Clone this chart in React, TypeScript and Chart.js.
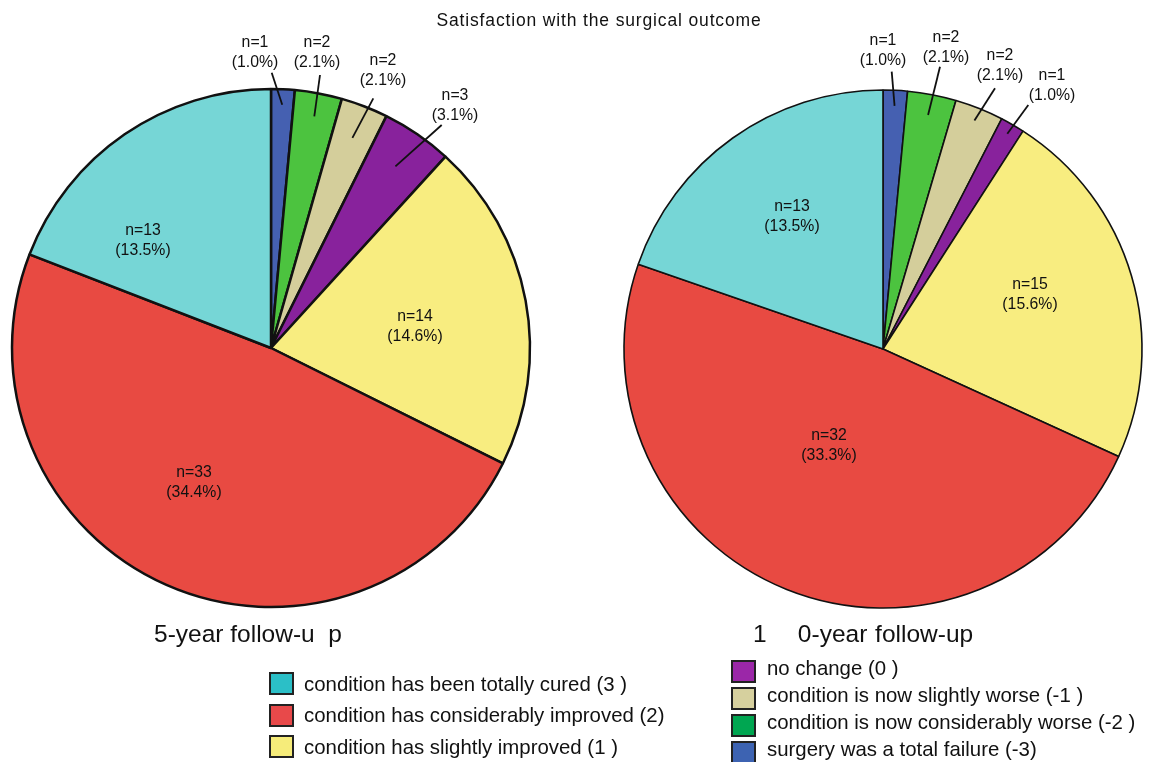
import React, { useEffect, useRef } from "react";
import { Chart, registerables } from "chart.js";

Chart.register(...registerables);

// Response categories, in the order the slices run clockwise from 12 o'clock
const categories = [
  "surgery was a total failure (-3)",
  "condition is now considerably worse (-2 )",
  "condition is now slightly worse (-1 )",
  "no change (0 )",
  "condition has slightly improved (1 )",
  "condition has considerably improved (2)",
  "condition has been totally cured (3 )",
];

const fiveYearCounts = [1, 2, 2, 3, 14, 33, 13];
const tenYearCounts = [1, 2, 2, 1, 15, 32, 13];

// Percentages are stated against all respondents of the cohort
const respondents = 96;

const sliceColors = ["#4560B1", "#4CC33F", "#D4CE9B", "#88229C", "#F8ED80", "#E84A42", "#76D6D6"];
const legendColors = ["#3D63B2", "#00A651", "#D6D09E", "#9B27A8", "#F6EC7A", "#E8494A", "#2BBFC7"];

const chartTitle = "Satisfaction with the surgical outcome";
const fiveYearCaption = "5-year follow-u  p";
const tenYearCaption = "1    0-year follow-up";

// Legend columns (category indices)
const legendLeft = [6, 5, 4];
const legendRight = [3, 2, 1, 0];

const FONT = "'Liberation Sans', Arial, Helvetica, sans-serif";

type Placement = { dx: number; dy: number; lineTo?: [number, number]; inner?: number };

// Label placement relative to the pie centre; call-outs get a leader line
const fiveYearPlacements: Placement[] = [
  { dx: -16, dy: -296, lineTo: [0.7, -275.3], inner: 0.94 },
  { dx: 46, dy: -295.5, lineTo: [49, -273], inner: 0.91 },
  { dx: 112, dy: -278, lineTo: [102.3, -249.7], inner: 0.87 },
  { dx: 184, dy: -243, lineTo: [170.7, -223], inner: 0.85 },
  { dx: 144, dy: -22 },
  { dx: -77, dy: 134 },
  { dx: -128, dy: -108 },
];

const tenYearPlacements: Placement[] = [
  { dx: 0, dy: -299, lineTo: [8.7, -277.3], inner: 0.94 },
  { dx: 63, dy: -301.5, lineTo: [57, -282.3], inner: 0.92 },
  { dx: 117, dy: -284, lineTo: [112, -260.7], inner: 0.95 },
  { dx: 169, dy: -264, lineTo: [145.3, -244], inner: 0.96 },
  { dx: 147, dy: -54.5 },
  { dx: -54, dy: 96 },
  { dx: -91, dy: -133 },
];

// Slice labels use a slightly condensed face
const LABEL_SCALE_X = 0.93;

const sliceLabelPlugin = {
  id: "sliceLabels",
  afterDatasetsDraw(chart: any, _args: any, opts: any) {
    const meta = chart.getDatasetMeta(0);
    const values = chart.data.datasets[0].data as number[];
    const ctx = chart.ctx as CanvasRenderingContext2D;
    ctx.save();
    ctx.fillStyle = "#111";
    ctx.strokeStyle = "#111";
    meta.data.forEach((arc: any, i: number) => {
      const p: Placement = opts.placements[i];
      const { x, y, startAngle, endAngle, outerRadius } = arc.getProps(
        ["x", "y", "startAngle", "endAngle", "outerRadius"],
        true
      );
      const n = values[i];
      const pct = ((n / respondents) * 100).toFixed(1);
      if (p.lineTo) {
        const mid = (startAngle + endAngle) / 2;
        const r = outerRadius * (p.inner ?? 0.9);
        ctx.beginPath();
        ctx.moveTo(x + Math.cos(mid) * r, y + Math.sin(mid) * r);
        ctx.lineTo(x + p.lineTo[0], y + p.lineTo[1]);
        ctx.lineWidth = 1.8;
        ctx.stroke();
      }
      const cx = x + p.dx;
      const cy = y + p.dy;
      ctx.save();
      ctx.translate(cx, cy);
      ctx.scale(LABEL_SCALE_X, 1);
      ctx.font = `17px ${FONT}`;
      ctx.textAlign = "center";
      ctx.textBaseline = "middle";
      ctx.fillText(`n=${n}`, 0, -10);
      ctx.fillText(`(${pct}%)`, 0, 10);
      ctx.restore();
    });
    ctx.restore();
  },
};

type PieProps = {
  counts: number[];
  placements: Placement[];
  left: number;
  width: number;
  padding: { left: number; right: number; top: number; bottom: number };
  borderWidth: number;
};

function Pie({ counts, placements, left, width, padding, borderWidth }: PieProps) {
  const ref = useRef<HTMLCanvasElement | null>(null);
  useEffect(() => {
    if (!ref.current) return;
    const chart = new Chart(ref.current, {
      type: "pie",
      data: {
        labels: categories,
        datasets: [
          {
            data: counts,
            backgroundColor: sliceColors,
            borderColor: "#111",
            borderWidth,
          },
        ],
      },
      options: {
        responsive: false,
        animation: false,
        devicePixelRatio: 1,
        events: [],
        radius: 259,
        layout: { padding },
        plugins: {
          legend: { display: false },
          tooltip: { enabled: false },
          title: { display: false },
          sliceLabels: { placements },
        } as any,
      } as any,
      plugins: [sliceLabelPlugin],
    });
    return () => chart.destroy();
  }, []);
  return (
    <canvas
      ref={ref}
      width={width}
      height={762}
      style={{ position: "absolute", left, top: 0, width, height: 762 }}
    />
  );
}

function LegendRow({ idx, top, x, textX, textDy }: { idx: number; top: number; x: number; textX: number; textDy: number }) {
  return (
    <>
      <div
        style={{
          position: "absolute",
          left: x,
          top,
          width: 21,
          height: 19,
          background: legendColors[idx],
          border: "2px solid #222",
        }}
      />
      <div
        style={{
          position: "absolute",
          left: textX,
          top: top + textDy,
          fontSize: 20.4,
          lineHeight: "20.4px",
          fontFamily: FONT,
          color: "#111",
          whiteSpace: "pre",
        }}
      >
        {categories[idx]}
      </div>
    </>
  );
}

export default function App() {
  return (
    <div
      style={{
        position: "fixed",
        left: 0,
        top: 0,
        width: 1149,
        height: 762,
        background: "#fff",
        overflow: "hidden",
      }}
    >
      <Pie
        counts={fiveYearCounts}
        placements={fiveYearPlacements}
        left={0}
        width={575}
        padding={{ left: 12, right: 45, top: 89, bottom: 155 }}
        borderWidth={2.5}
      />
      <Pie
        counts={tenYearCounts}
        placements={tenYearPlacements}
        left={575}
        width={574}
        padding={{ left: 49, right: 7, top: 90, bottom: 154 }}
        borderWidth={1.6}
      />
      <div
        style={{
          position: "absolute",
          left: 0,
          width: 1198,
          top: 12,
          textAlign: "center",
          fontSize: 17.5,
          lineHeight: "17.5px",
          letterSpacing: "0.85px",
          fontFamily: FONT,
          color: "#111",
        }}
      >
        {chartTitle}
      </div>
      <div
        style={{
          position: "absolute",
          left: 154,
          top: 622,
          fontSize: 24.5,
          lineHeight: "24.5px",
          fontFamily: FONT,
          color: "#111",
          whiteSpace: "pre",
        }}
      >
        {fiveYearCaption}
      </div>
      <div
        style={{
          position: "absolute",
          left: 753,
          top: 622,
          fontSize: 24.5,
          lineHeight: "24.5px",
          wordSpacing: "1px",
          fontFamily: FONT,
          color: "#111",
          whiteSpace: "pre",
        }}
      >
        {tenYearCaption}
      </div>
      {legendLeft.map((idx, k) => (
        <LegendRow key={idx} idx={idx} top={672 + k * 31.5} x={269} textX={304} textDy={1.5} />
      ))}
      {legendRight.map((idx, k) => (
        <LegendRow key={idx} idx={idx} top={660 + k * 27} x={731} textX={767} textDy={-2} />
      ))}
    </div>
  );
}
